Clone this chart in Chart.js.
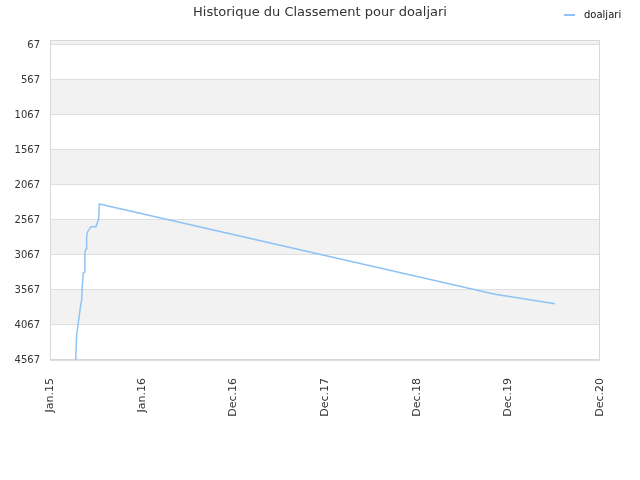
<!DOCTYPE html>
<html><head><meta charset="utf-8">
<script src="https://cdn.jsdelivr.net/npm/chart.js@4"></script>
<style>
body{margin:0;background:#fff}
#w{position:relative;width:640px;height:480px}
#t{position:absolute;left:0;width:640px;top:4px;text-align:center;font:13px "DejaVu Sans";color:#333}
#l{position:absolute;left:564px;top:9px;font:10px "DejaVu Sans";color:#111;display:flex;align-items:center}
#l i{display:inline-block;width:11px;height:2px;background:#8fc3f5;margin-right:9px}
</style></head><body>
<div id="w"><canvas id="c" width="640" height="480"></canvas>
<div id="t">Historique du Classement pour doaljari</div>
<div id="l"><i></i>doaljari</div></div>
<script>
const seriesName = 'doaljari';
const xTickLabels = ['Jan.15','Jan.16','Dec.16','Dec.17','Dec.18','Dec.19','Dec.20'];
const yTickValues = [67,567,1067,1567,2067,2567,3067,3567,4067,4567];
const xPos = [0.280,0.291,0.305,0.320,0.335,0.346,0.352,0.363,0.379,0.381,0.393,0.400,0.411,0.447,0.502,0.520,0.531,0.538,4.854,5.509];
const ranks = [4567,4210,4067,3924,3781,3710,3524,3324,3310,3024,2981,2795,2734,2662,2662,2590,2557,2338,3628,3763];
const lineColor = '#8fc3f5';

const bands = {
  id:'bands',
  beforeDraw(chart){
    const {ctx, chartArea:a, scales:{y}} = chart;
    ctx.save();
    ctx.fillStyle = '#f2f2f2';
    const edges = [y.min].concat(yTickValues);
    for(let i=0;i<edges.length-1;i++){
      if(i%2===0){
        const y1=y.getPixelForValue(edges[i]), y2=y.getPixelForValue(edges[i+1]);
        ctx.fillRect(a.left, Math.min(y1,y2), a.right-a.left, Math.abs(y2-y1));
      }
    }
    ctx.restore();
  },
  beforeDatasetsDraw(chart){
    const {ctx, chartArea:a} = chart;
    ctx.save();
    ctx.strokeStyle='#d8d8d8';ctx.lineWidth=1;
    ctx.strokeRect(a.left+0.5,a.top+0.5,a.right-a.left-1,a.bottom-a.top-1);
    ctx.restore();
  }
};

new Chart(document.getElementById('c'), {
  type:'line',
  data:{datasets:[{label:seriesName,data:xPos.map((x,i)=>({x,y:ranks[i]})),borderColor:lineColor,borderWidth:1.5,pointRadius:0,tension:0,fill:false}]},
  options:{
    responsive:false,animation:false,
    layout:{padding:{top:40,right:40,left:0,bottom:0},autoPadding:false},
    plugins:{legend:{display:false},title:{display:false},tooltip:{enabled:false}},
    scales:{
      x:{type:'linear',min:0,max:6,
        afterBuildTicks(s){s.ticks=xTickLabels.map((_,i)=>({value:i}));},
        afterFit(s){s.height=120;},
        grid:{display:false},border:{display:false},
        ticks:{autoSkip:false,minRotation:90,maxRotation:90,padding:10,color:'#333',font:{family:'DejaVu Sans',size:11},callback:v=>xTickLabels[v]}
      },
      y:{reverse:true,min:-4.4,max:4567,
        afterBuildTicks(s){s.ticks=yTickValues.map(v=>({value:v}));},
        afterFit(s){s.width=50;},
        grid:{color:'#dedede',drawTicks:false},border:{display:false},
        ticks:{padding:10,color:'#333',font:{family:'DejaVu Sans',size:10},callback:v=>String(v)}
      }
    }
  },
  plugins:[bands]
});
</script>
</body></html>
